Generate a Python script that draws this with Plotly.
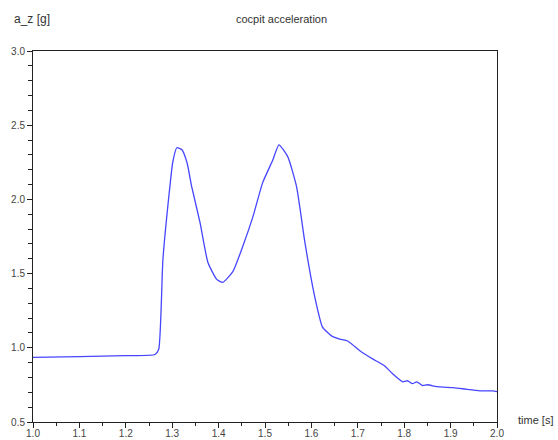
import plotly.graph_objects as go

time_s = [1.0, 1.1, 1.2, 1.263, 1.271, 1.280, 1.295, 1.301, 1.310, 1.321, 1.332, 1.342,
          1.360, 1.377, 1.396, 1.409, 1.431, 1.452, 1.474, 1.495, 1.517, 1.530, 1.549,
          1.568, 1.586, 1.607, 1.624, 1.644, 1.661, 1.678, 1.708, 1.732, 1.758, 1.775,
          1.797, 1.807, 1.818, 1.827, 1.840, 1.850, 1.870, 1.905, 1.926, 1.963, 1.991, 2.0]
a_z = [0.935, 0.94, 0.947, 0.955, 0.99, 1.595, 2.086, 2.247, 2.348, 2.335, 2.247, 2.086,
       1.844, 1.575, 1.461, 1.441, 1.515, 1.683, 1.884, 2.113, 2.267, 2.368, 2.288,
       2.086, 1.710, 1.347, 1.139, 1.079, 1.059, 1.046, 0.972, 0.925, 0.878, 0.825,
       0.771, 0.778, 0.758, 0.771, 0.745, 0.751, 0.738, 0.731, 0.724, 0.710, 0.710, 0.705]

title_text = "cocpit acceleration"
y_label = "a_z [g]"
x_label = "time [s]"

fig = go.Figure()
fig.add_trace(go.Scatter(x=time_s, y=a_z, mode="lines",
                         line=dict(color="rgb(70,70,255)", width=1.3, shape="spline", smoothing=0.5),
                         showlegend=False, hoverinfo="skip"))

font_fam = "Liberation Sans, Arial, sans-serif"
axis_common = dict(showgrid=False, zeroline=False, showline=True, linecolor="#222",
                   linewidth=1, mirror=True, ticks="outside", tickcolor="#222",
                   ticklen=5, tickwidth=1, tickformat=".1f", automargin=False,
                   tickfont=dict(family=font_fam, size=10, color="#444"))

fig.update_xaxes(range=[1.0, 2.0], dtick=0.1, tick0=1.0, ticklabelstandoff=-3,
                 minor=dict(dtick=0.05, ticks="outside", ticklen=3, tickcolor="#222"),
                 **axis_common)
fig.update_yaxes(range=[0.5, 3.0], dtick=0.5, tick0=0.5,
                 minor=dict(dtick=0.1, ticks="outside", ticklen=4, tickcolor="#222"),
                 **axis_common)

fig.update_layout(
    width=558, height=440,
    margin=dict(l=33, r=61, t=51, b=18),
    plot_bgcolor="white", paper_bgcolor="white",
    annotations=[
        dict(text=title_text, xref="paper", yref="paper", x=0.535, y=1.0, yshift=32,
             showarrow=False, xanchor="center", yanchor="middle",
             font=dict(family=font_fam, size=11, color="#333")),
        dict(text=y_label, xref="paper", yref="paper", x=0, xshift=-21, y=1.0, yshift=32,
             showarrow=False, xanchor="left", yanchor="middle",
             font=dict(family=font_fam, size=12, color="#333")),
        dict(text=x_label, xref="paper", yref="paper", x=1.0, xshift=19, y=0.0, yshift=2,
             showarrow=False, xanchor="left", yanchor="middle",
             font=dict(family=font_fam, size=11, color="#333")),
    ],
)

fig.write_html("out.html")
